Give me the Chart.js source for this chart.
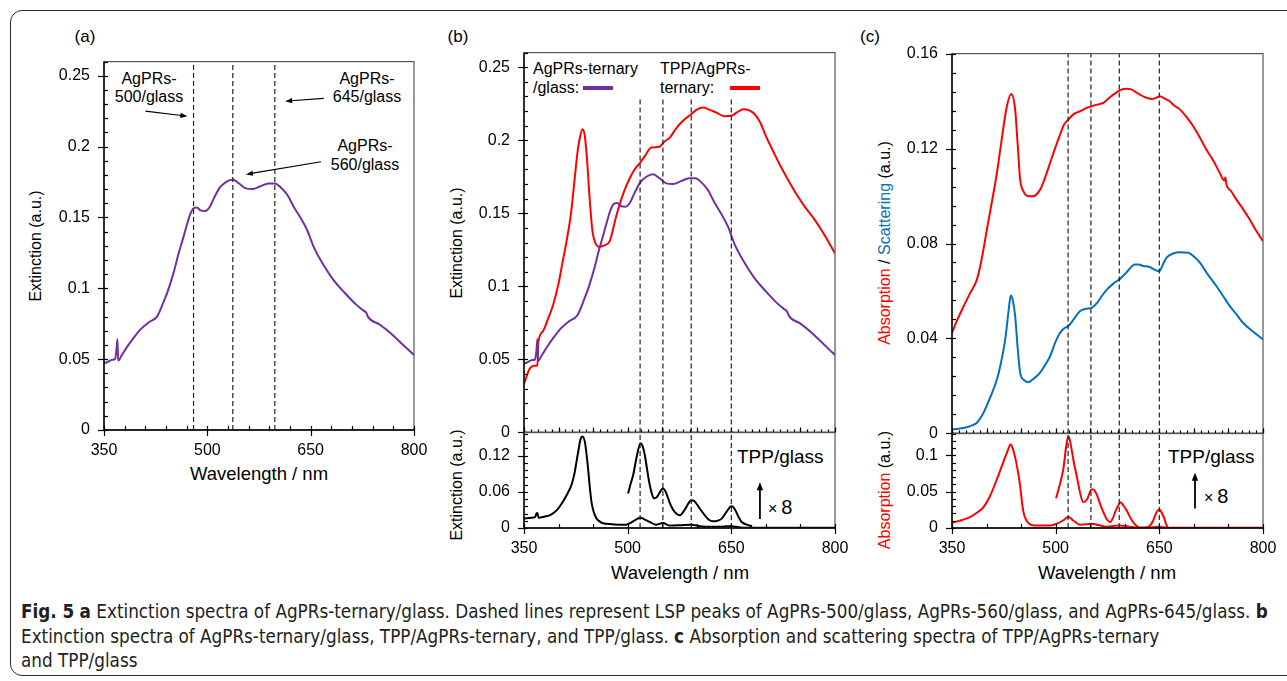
<!DOCTYPE html>
<html>
<head>
<meta charset="utf-8">
<script src="https://cdn.jsdelivr.net/npm/chart.js@4.4.1/dist/chart.umd.min.js"></script>
<style>
body{margin:0;width:1287px;height:681px;background:#fff;position:relative;overflow:hidden;font-family:"Liberation Sans",Arial,sans-serif;color:#000}
.box{position:absolute}
.frame{position:absolute;left:10px;top:10px;width:1500px;height:664px;border:1.6px solid #2a2a2a;border-radius:12px}
.t{position:absolute;white-space:nowrap;line-height:1;transform:translate(-50%,-50%)}
.rot{position:absolute;white-space:nowrap;line-height:1;transform:translate(-50%,-50%) rotate(-90deg);font-size:16px}
.l{position:absolute;white-space:nowrap;line-height:18px;font-size:16px}
.ann{position:absolute;white-space:nowrap;text-align:center;font-size:16px;transform:translate(-50%,-50%)}
.xt{font-size:18.5px}
.bar{position:absolute;height:3.5px}
#cap{position:absolute;left:21px;top:600px;transform-origin:0 0;font-family:"Liberation Sans Narrow","DejaVu Sans Condensed","Roboto Condensed",sans-serif;font-size:19px;color:#231f20}
#cap div{white-space:nowrap;height:24.5px;line-height:22px}
</style>
</head>
<body>
<div class="frame"></div>

<div class="t" style="left:85px;top:36px;font-size:17px">(a)</div>
<div class="t" style="left:458px;top:36px;font-size:17px">(b)</div>
<div class="t" style="left:870px;top:36px;font-size:17px">(c)</div>

<div class="ann" style="left:149px;top:88px;line-height:18px">AgPRs-<br>500/glass</div>
<div class="ann" style="left:367px;top:88px;line-height:18px">AgPRs-<br>645/glass</div>
<div class="ann" style="left:365px;top:155px;line-height:19px">AgPRs-<br>560/glass</div>

<div class="l" style="left:533px;top:60px">AgPRs-ternary</div>
<div class="l" style="left:533px;top:79px">/glass:</div>
<div class="bar" style="left:583px;top:86px;width:30px;background:#7030a0"></div>
<div class="l" style="left:660px;top:60px">TPP/AgPRs-</div>
<div class="l" style="left:660px;top:79px">ternary:</div>
<div class="bar" style="left:730px;top:86px;width:30px;background:#ff0000"></div>

<div class="l" style="left:737px;top:447px;font-size:19px;line-height:20px">TPP/glass</div>
<div class="l" style="left:768px;top:497px;line-height:20px"><span style="font-size:16px">×</span><span style="font-size:20px">&thinsp;8</span></div>
<div class="l" style="left:1168px;top:447px;font-size:19px;line-height:20px">TPP/glass</div>
<div class="l" style="left:1204px;top:486px;line-height:20px"><span style="font-size:16px">×</span><span style="font-size:20px">&thinsp;8</span></div>

<div class="t xt" style="left:259px;top:474px">Wavelength / nm</div>
<div class="t xt" style="left:680px;top:573px">Wavelength / nm</div>
<div class="t xt" style="left:1107px;top:573px">Wavelength / nm</div>

<div class="rot" style="left:36px;top:246px">Extinction (a.u.)</div>
<div class="rot" style="left:457px;top:243px">Extinction (a.u.)</div>
<div class="rot" style="left:457px;top:485px">Extinction (a.u.)</div>
<div class="rot" style="left:885px;top:243px"><span style="color:#ff0000">Absorption</span> / <span style="color:#0070c0">Scattering</span> (a.u.)</div>
<div class="rot" style="left:885px;top:490px"><span style="color:#ff0000">Absorption</span> (a.u.)</div>

<div id="cap">
<div id="cap1"><b>Fig. 5</b> <b>a</b> Extinction spectra of AgPRs-ternary/glass. Dashed lines represent LSP peaks of AgPRs-500/glass, AgPRs-560/glass, and AgPRs-645/glass. <b>b</b></div>
<div>Extinction spectra of AgPRs-ternary/glass, TPP/AgPRs-ternary, and TPP/glass. <b>c</b> Absorption and scattering spectra of TPP/AgPRs-ternary</div>
<div>and TPP/glass</div>
</div>

<script>
// wavelength axis
var xTickVals = [350, 500, 650, 800];

// dashed LSP peak lines
var peaksA = [480, 537, 598];
var peaksBC = [518, 551, 592, 650];

// AgPRs-ternary/glass extinction (a) and (b)
var wlTernary = [350,355,362,366,368,369.5,370.5,376,384,393,403,415,427,437,444,451,458,464,469,475,480,485,490,497,503,510,518,527,537,546,556,566,577,589,598,607,616,626,635,645,655,668,683,700,715,726,731,733,750,765,780,800];
var extTernary = [.047,.048,.0495,.050,.056,.064,.049,.053,.059,.065,.071,.076,.080,.091,.100,.111,.124,.134,.1425,.152,.1565,.157,.155,.1545,.157,.164,.171,.175,.1768,.174,.1705,.170,.172,.174,.174,.171,.166,.157,.150,.141,.1285,.117,.106,.0965,.089,.0845,.0825,.080,.0745,.0688,.062,.053];

// TPP/AgPRs-ternary extinction (b)
var wlTppTernary = [350,358,365,369.5,370.5,377,385,392,400,406,412,418,423,427,431,434.6,438,441,445,449,453,459,466,474,484,494,503,510,518,526,534,546,553,561,570,580,592,600,609,618,628,640,650,658,667,676,684,692,701,710,720,732,745,757,769,785,800];
var extTppTernary = [.033,.0434,.0457,.046,.0606,.069,.078,.087,.102,.117,.132,.150,.172,.190,.202,.2075,.203,.188,.160,.138,.130,.127,.128,.131,.149,.164,.174,.180,.1846,.190,.195,.1955,.199,.2018,.208,.2133,.2178,.221,.2224,.221,.219,.2165,.2167,.219,.2213,.2205,.2178,.212,.2018,.193,.1834,.173,.1625,.154,.1467,.135,.1225];

// TPP/glass extinction (b, lower)
var wlTpp = [350,360,366,368,369.5,371,380,387,395,400,406,412,418.6,423,426,429,431.6,434.6,438,440.5,442.7,445,447.6,451,455,462,469,480,498,505,512,518.6,525,532,541,551,561,575,592,605,620,640,650,667,700,800];
var extTpp = [.0155,.017,.018,.024,.025,.017,.019,.021,.027,.033,.043,.055,.071,.090,.110,.130,.146,.1517,.143,.122,.0988,.070,.0433,.026,.0155,.009,.007,.006,.0055,.009,.014,.017,.014,.010,.0055,.0083,.004,.0045,.0055,.003,.002,.0025,.003,.0005,.0005,.0005];
var wlTpp8 = [500.6,504,508,513.6,518.6,521.5,524.8,528,531.8,535,538,541,544,548,551,555,558.6,563,568,575.5,580,585,592,596,599,605,611.7,617,623.7,630,636,643,650,654,657,661,665,672.5,680];
var extTpp8 = [.057,.072,.088,.121,.1405,.136,.121,.098,.072,.057,.049,.050,.054,.062,.0655,.060,.049,.036,.0267,.021,.026,.035,.046,.045,.041,.031,.021,.014,.011,.012,.0155,.0267,.036,.033,.0267,.017,.010,.0055,.003];

// TPP/AgPRs-ternary absorption & scattering (c)
var wlAbs = [350,358,367,376,386,392,400.5,408,415,422,429.4,435.7,441.4,445,448.6,453.4,460,467,477.5,485,492,499,506.4,512,518.4,526,535,544,552,560,569,576,583.4,590,597.8,604,610,616,622,630,638.8,645,650.8,658,665,672,680,690,699,708,718,728,737.5,744,745.5,747,754,761.6,770,780.8,790,800];
var absTernary = [.0424,.048,.0536,.059,.0648,.072,.0859,.098,.1097,.124,.1378,.143,.1364,.122,.107,.102,.100,.0999,.1027,.108,.114,.120,.1259,.130,.1322,.1345,.1357,.137,.1378,.1385,.1392,.141,.1427,.144,.1451,.1452,.1448,.1438,.1427,.1415,.1409,.1413,.142,.141,.1399,.138,.1364,.133,.1294,.125,.1196,.115,.1097,.1065,.1078,.105,.102,.0985,.095,.0901,.0855,.081];
var wlSca = [350,360,370,380,386,395.6,405,415,421,427,432,435,438,441.4,445,448.6,454,460.6,468,477.5,485,492,499,506.4,512,518.4,526,535,544,552,560,567,574,583,593,603,614.7,620,626.6,635,643,650,655,660.5,670,680,692,700,708.7,720,732.7,742,752,762,771,785,800];
var scaTernary = [.0017,.002,.0025,.0035,.0045,.0087,.015,.0227,.030,.0396,.052,.0581,.056,.0494,.036,.0256,.0225,.0216,.023,.0256,.029,.0325,.038,.0424,.0442,.0452,.048,.0515,.0525,.0529,.055,.058,.0606,.063,.0651,.068,.0712,.0712,.0705,.0702,.069,.0683,.071,.074,.0758,.0763,.0761,.0745,.0719,.067,.062,.058,.0536,.050,.0466,.043,.0396];

// TPP/glass absorption (c, lower)
var wlAbsTpp = [350,365,376,386,395.6,405,415,422,429.4,435,438,441,445,448.6,451,453.4,458,468,480,492,501.6,510,518.4,526,535,545,552,562,574,585,593,605,620,640,650,660,700,800];
var absTpp = [.0072,.011,.015,.021,.0286,.044,.0672,.085,.1035,.1149,.109,.099,.080,.058,.038,.0218,.010,.0036,.0035,.0036,.0059,.010,.015,.010,.0045,.005,.006,.004,.0018,.003,.0036,.002,.0005,.001,.0018,.0005,.0003,.0003];
var wlAbsTpp8 = [500.6,506,511,516,519,522,526,530.5,535,540,545.6,552,555,559,564,569,574,578.7,583,586,590,594,598,602.6,607,612,617,622,630,636.6,641,644,647,650,654,657,660,662];
var absTpp8 = [.041,.060,.0808,.117,.126,.114,.092,.0717,.050,.0354,.0395,.0535,.053,.047,.034,.0218,.012,.0082,.014,.0218,.030,.0354,.031,.0245,.016,.0082,.003,.0005,.0005,.0036,.010,.0173,.023,.0254,.020,.0136,.005,.0005];

// y tick labels
var yTicksExt = [0, 0.05, 0.1, 0.15, 0.2, 0.25];
var yTicksTpp = [0, 0.06, 0.12];
var yTicksAbsSca = [0, 0.04, 0.08, 0.12, 0.16];
var yTicksAbsTpp = [0, 0.05, 0.1];

var FONT = '"Liberation Sans", Arial, sans-serif';
var PURPLE = '#7030a0', RED = '#ff0000', BLUE = '#0070c0';
var Y_W = 60, PAD_T = 15, PAD_R = 25;

function series(wl, vals) {
  return wl.map(function (w, i) { return {x: w, y: vals[i]}; });
}
function vlines(peaks, top) {
  var d = [];
  peaks.forEach(function (p) { d.push({x: p, y: 0}, {x: p, y: top}, {x: p, y: null}); });
  return d;
}
function lineDs(data, color) {
  return {data: data, borderColor: color, borderWidth: 2, pointRadius: 0, cubicInterpolationMode: 'monotone', fill: false};
}
function dashDs(data) {
  return {data: data, borderColor: '#222', borderWidth: 1.2, borderDash: [5, 3], pointRadius: 0, tension: 0, fill: false};
}

function arrow(ctx, x0, y0, x1, y1, lw, h, w) {
  var a = Math.atan2(y1 - y0, x1 - x0);
  ctx.lineWidth = lw;
  ctx.beginPath();
  ctx.moveTo(x0, y0);
  ctx.lineTo(x1 - Math.cos(a) * h * 0.8, y1 - Math.sin(a) * h * 0.8);
  ctx.stroke();
  ctx.beginPath();
  ctx.moveTo(x1, y1);
  ctx.lineTo(x1 - Math.cos(a) * h + Math.sin(a) * w, y1 - Math.sin(a) * h - Math.cos(a) * w);
  ctx.lineTo(x1 - Math.cos(a) * h - Math.sin(a) * w, y1 - Math.sin(a) * h + Math.cos(a) * w);
  ctx.closePath();
  ctx.fill();
}

// frame, tick marks and arrows
function boxTicks(marks) {
  return {
    id: 'boxTicks',
    afterDatasetsDraw: function (chart) {
      var ctx = chart.ctx, a = chart.chartArea, x = chart.scales.x, y = chart.scales.y;
      ctx.save();
      ctx.strokeStyle = '#555';
      ctx.lineWidth = 1.2;
      ctx.strokeRect(a.left, a.top, a.right - a.left, a.bottom - a.top);
      ctx.strokeStyle = '#000';
      ctx.lineWidth = 1.4;
      ctx.beginPath();
      ctx.moveTo(a.left, a.top); ctx.lineTo(a.left, a.bottom); ctx.lineTo(a.right, a.bottom);
      ctx.stroke();
      ctx.lineWidth = 1.2;
      (marks.x || []).forEach(function (t) {
        for (var k = 0; k < 200; k++) {
          var v = x.min + k * t.step;
          if (v > x.max + 1e-9) break;
          var px = Math.round(x.getPixelForValue(v)) + 0.5;
          ctx.beginPath(); ctx.moveTo(px, a.bottom - (t.inn || 0)); ctx.lineTo(px, a.bottom + (t.out || 0)); ctx.stroke();
        }
      });
      (marks.y || []).forEach(function (t) {
        for (var k = 0; k < 200; k++) {
          var v = y.min + k * t.step;
          if (v > y.max + 1e-9) break;
          var py = Math.round(y.getPixelForValue(v)) + 0.5;
          ctx.beginPath(); ctx.moveTo(a.left - (t.out || 0), py); ctx.lineTo(a.left + (t.inn || 0), py); ctx.stroke();
        }
      });
      ctx.fillStyle = '#000';
      (marks.arrows || []).forEach(function (r) {
        arrow(ctx, x.getPixelForValue(r.x0), y.getPixelForValue(r.y0), x.getPixelForValue(r.x1), y.getPixelForValue(r.y1), r.lw, r.h, r.w);
      });
      ctx.restore();
    }
  };
}

function fmt(v) { return String(+(+v).toFixed(3)); }

// build once, measure how far Chart.js moved the plot area, then rebuild so it lands on box
function makeChart(box, mkDatasets, o) {
  var dTop = 0, dBot = 0, chart, div;
  for (var pass = 0; pass < 2; pass++) {
    var left = box.L - Y_W, top = box.T - PAD_T - dTop;
    var W = box.R + PAD_R - left, H = box.B + o.xH + dBot - top;
    div = document.createElement('div');
    div.className = 'box';
    div.style.left = left + 'px'; div.style.top = top + 'px';
    div.style.width = W + 'px'; div.style.height = H + 'px';
    var cv = document.createElement('canvas');
    cv.width = W; cv.height = H;
    div.appendChild(cv);
    document.body.appendChild(div);
    chart = new Chart(cv, {
      type: 'line',
      data: {datasets: mkDatasets()},
      options: {
        responsive: false, animation: false, events: [],
        layout: {padding: {top: PAD_T, right: PAD_R, left: 0, bottom: 0}, autoPadding: false},
        plugins: {legend: {display: false}, tooltip: {enabled: false}},
        scales: {
          x: {
            type: 'linear', min: 350, max: 800,
            grid: {display: false, drawTicks: false}, border: {display: false},
            afterBuildTicks: function (s) { s.ticks = xTickVals.map(function (v) { return {value: v}; }); },
            ticks: {display: o.xLabels, padding: o.xPad || 0, color: '#000', maxRotation: 0, autoSkip: false, font: {size: 16, family: FONT}},
            afterFit: function (s) { s.height = o.xH; }
          },
          y: {
            type: 'linear', min: 0, max: o.yMax,
            grid: {display: false, drawTicks: false}, border: {display: false},
            afterBuildTicks: function (s) { s.ticks = o.yTicks.map(function (v) { return {value: v}; }); },
            ticks: {padding: 14, color: '#000', font: {size: 16, family: FONT}, callback: fmt},
            afterFit: function (s) { s.width = Y_W; }
          }
        }
      },
      plugins: [boxTicks(o.marks)]
    });
    if (pass === 0) {
      dTop = chart.chartArea.top - PAD_T;
      dBot = (H - o.xH) - chart.chartArea.bottom;
      chart.destroy();
      div.remove();
    }
  }
  return chart;
}

// (a)
makeChart({L: 104, R: 414, T: 62, B: 431}, function () { return [
  dashDs(vlines(peaksA, 0.26)),
  lineDs(series(wlTernary, extTernary), PURPLE)
]; }, {yMax: 0.26, yTicks: yTicksExt, xLabels: true, xPad: 11, xH: 30,
  marks: {
    x: [{step: 30, inn: 4}, {step: 150, out: 6}],
    y: [{step: 0.01, inn: 4}, {step: 0.05, out: 6}],
    arrows: [
      {x0: 410, y0: 0.225, x1: 471, y1: 0.2215, lw: 1.2, h: 7, w: 2.6},
      {x0: 669, y0: 0.234, x1: 613, y1: 0.2321, lw: 1.2, h: 7, w: 2.6},
      {x0: 665, y0: 0.1893, x1: 556, y1: 0.1804, lw: 1.2, h: 7, w: 2.6}
    ]
  }});

// (b) upper
makeChart({L: 524, R: 835, T: 53, B: 433}, function () { return [
  dashDs(vlines(peaksBC, 0.229)),
  lineDs(series(wlTernary, extTernary), PURPLE),
  lineDs(series(wlTppTernary, extTppTernary), RED)
]; }, {yMax: 0.26, yTicks: yTicksExt, xLabels: false, xH: 5,
  marks: {x: [{step: 10, inn: 3}, {step: 50, inn: 5}], y: [{step: 0.01, inn: 4}, {step: 0.05, out: 6}]}});

// (b) lower
makeChart({L: 524, R: 835, T: 433, B: 529}, function () { return [
  dashDs(vlines(peaksBC, 0.158)),
  lineDs(series(wlTpp, extTpp), '#000'),
  lineDs(series(wlTpp8, extTpp8), '#000')
]; }, {yMax: 0.158, yTicks: yTicksTpp, xLabels: true, xPad: 11, xH: 30,
  marks: {
    x: [{step: 50, inn: 4}, {step: 150, out: 6}],
    y: [{step: 0.012, inn: 4}, {step: 0.06, out: 6}],
    arrows: [{x0: 691.4, y0: 0.0148, x1: 691.4, y1: 0.0757, lw: 1.8, h: 8, w: 3.2}]
  }});

// (c) upper
makeChart({L: 952, R: 1263, T: 54, B: 434}, function () { return [
  dashDs(vlines(peaksBC, 0.16)),
  lineDs(series(wlAbs, absTernary), RED),
  lineDs(series(wlSca, scaTernary), BLUE)
]; }, {yMax: 0.16, yTicks: yTicksAbsSca, xLabels: false, xH: 5,
  marks: {x: [{step: 10, inn: 3}, {step: 50, inn: 5}], y: [{step: 0.008, inn: 4}, {step: 0.04, out: 6}]}});

// (c) lower
makeChart({L: 952, R: 1263, T: 434, B: 529}, function () { return [
  dashDs(vlines(peaksBC, 0.13)),
  lineDs(series(wlAbsTpp, absTpp), RED),
  lineDs(series(wlAbsTpp8, absTpp8), RED)
]; }, {yMax: 0.13, yTicks: yTicksAbsTpp, xLabels: true, xPad: 11, xH: 30,
  marks: {
    x: [{step: 50, inn: 4}, {step: 150, out: 6}],
    y: [{step: 0.01, inn: 4}, {step: 0.05, out: 6}],
    arrows: [{x0: 701.6, y0: 0.027, x1: 701.6, y1: 0.0762, lw: 1.8, h: 8, w: 3.2}]
  }});

// fit caption to the printed line width
var capW = document.getElementById('cap1').scrollWidth;
document.getElementById('cap').style.transform = 'scaleX(' + (1247 / capW) + ')';
</script>
</body>
</html>
